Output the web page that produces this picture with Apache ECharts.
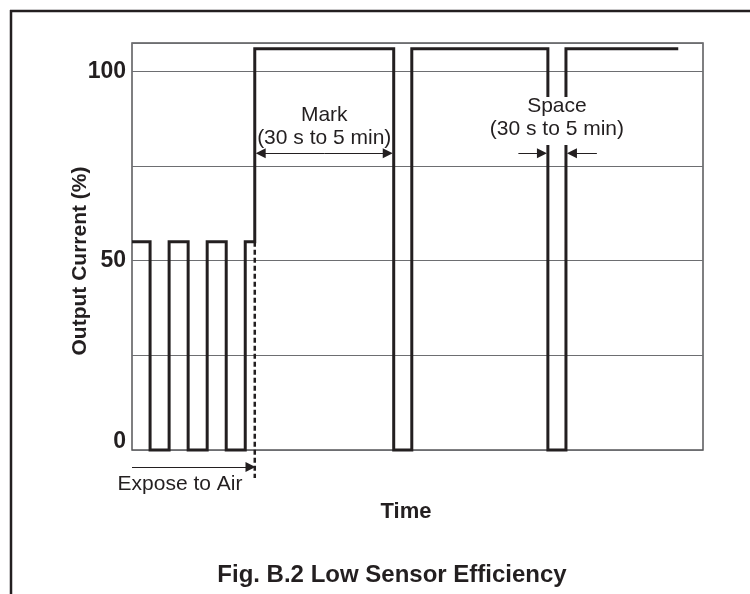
<!DOCTYPE html>
<html><head><meta charset="utf-8">
<script src="https://cdn.jsdelivr.net/npm/echarts@6/dist/echarts.min.js"></script>
<style>html,body{margin:0;padding:0;background:#fff}#chart{width:750px;height:594px}</style>
</head><body><div id="chart"></div>
<script>
// Output current trace: each segment begins at a time and holds a level (%)
const segmentStarts = [0, 3.8, 7.8, 11.8, 15.8, 19.8, 23.8, 25.8, 55.0, 58.8, 87.4, 91.2];
const segmentLevels = [55, 0, 55, 0, 55, 0, 55, 106, 0, 106, 0, 106];
const traceEnd = 114.8;
const timeMax = 120;
const yTickLabels = { 0: '0', 50: '50', 100: '100' };
const exposeIndex = 7;   // segment where the sensor is exposed to air
const markIndex = 7;     // a "mark" (high) segment
const spaceIndex = 10;   // a "space" (low) segment

const INK = '#231f20';
const FONT = 'Liberation Sans, Arial, Helvetica, sans-serif';

// Build the stepped trace from the segment arrays
const trace = [];
segmentStarts.forEach((t, i) => {
  const end = i + 1 < segmentStarts.length ? segmentStarts[i + 1] : traceEnd;
  trace.push([t, segmentLevels[i]]);
  trace.push([end, segmentLevels[i]]);
});

const exposeT = segmentStarts[exposeIndex];
const markStart = segmentStarts[markIndex], markEnd = segmentStarts[markIndex + 1];
const spaceStart = segmentStarts[spaceIndex], spaceEnd = segmentStarts[spaceIndex + 1];
const markMid = (markStart + markEnd) / 2;
const arrowY = 78.4;
const gap = 1.25;   // keeps arrow tips at the edge of the trace lines

const arrowHead = 'path://M0,0 L6,14 L-6,14 Z';
const lineData = [
  // exposure arrow under the axis
  { coords: [[0, -4.5], [exposeT - 0.9, -4.5]] },
  // mark duration, drawn as two halves pointing outward
  { coords: [[markMid, arrowY], [markStart + gap, arrowY]] },
  { coords: [[markMid, arrowY], [markEnd - gap, arrowY]] },
  // space duration, arrows pointing inward
  { coords: [[spaceStart - 6.2, arrowY], [spaceStart - gap, arrowY]] },
  { coords: [[spaceEnd + 6.5, arrowY], [spaceEnd + gap, arrowY]] }
];

const chart = echarts.init(document.getElementById('chart'), null, { renderer: 'canvas' });
chart.setOption({
  backgroundColor: '#fff',
  animation: false,
  grid: { left: 132, top: 43, right: 47, bottom: 144, show: true, borderColor: '#555658', borderWidth: 1.5 },
  xAxis: {
    type: 'value', min: 0, max: timeMax,
    axisLine: { show: false }, axisTick: { show: false }, axisLabel: { show: false },
    splitLine: { show: false }
  },
  yAxis: {
    type: 'value', min: 0, max: 107.5, interval: 25,
    axisLine: { show: false }, axisTick: { show: false },
    axisLabel: {
      margin: 6, fontFamily: FONT, fontWeight: 'bold', fontSize: 23, color: INK,
      formatter: v => (v === 0 ? '{z|0}' : (yTickLabels[v] || '')),
      rich: { z: { fontFamily: FONT, fontWeight: 'bold', fontSize: 23, color: INK, padding: [0, 0, 16, 0] } }
    },
    splitLine: { show: true, lineStyle: { color: '#6d6e71', width: 1.2 } }
  },
  series: [
    {
      type: 'line', data: trace, showSymbol: false, symbol: 'none', clip: false,
      lineStyle: { color: INK, width: 3, join: 'miter', cap: 'butt' }, z: 5
    },
    {
      type: 'line', data: [[exposeT, 55], [exposeT, -7.4]], showSymbol: false, symbol: 'none', clip: false,
      lineStyle: { color: INK, width: 2.5, type: [5, 3] }, z: 4
    },
    {
      type: 'lines', coordinateSystem: 'cartesian2d', clip: false,
      symbol: ['none', arrowHead], symbolSize: [5, 10],
      lineStyle: { color: INK, width: 1, opacity: 1, curveness: 0 },
      itemStyle: { color: INK },
      data: lineData, z: 6
    }
  ]
});

// Annotation texts placed from data coordinates
const px = p => chart.convertToPixel({ gridIndex: 0 }, p);
const markX = px([markMid, 0])[0];
const spaceX = px([(spaceStart + spaceEnd) / 2, 0])[0];
const txt = (text, x, y, size, bold, extra) => Object.assign({
  type: 'text', x, y, z: 100,
  style: { text, x: 0, y: 0, align: 'center', verticalAlign: 'middle', fill: INK,
    font: (bold ? 'bold ' : '') + size + 'px ' + FONT }
}, extra || {});

chart.setOption({
  graphic: [
    // page frame (top and left rules)
    { type: 'line', shape: { x1: 10, y1: 11, x2: 750, y2: 11 }, style: { stroke: INK, lineWidth: 2.5 }, z: 100 },
    { type: 'line', shape: { x1: 11, y1: 10, x2: 11, y2: 594 }, style: { stroke: INK, lineWidth: 2.5 }, z: 100 },
    // blank behind the "Space" caption
    { type: 'rect', shape: { x: spaceX - 14, y: 97, width: 28, height: 48 }, style: { fill: '#fff' }, z: 90 },
    txt('Output Current (%)', 80, 261, 21, true, { rotation: Math.PI / 2 }),
    txt('Mark', markX, 115, 21, false),
    txt('(30 s to 5 min)', markX, 138, 21, false),
    txt('Space', spaceX, 106, 21, false),
    txt('(30 s to 5 min)', spaceX, 129, 21, false),
    txt('Expose to Air', 180, 484, 21, false),
    txt('Time', 406, 512, 22, true),
    txt('Fig. B.2 Low Sensor Efficiency', 392, 575, 24, true)
  ]
});
</script></body></html>
